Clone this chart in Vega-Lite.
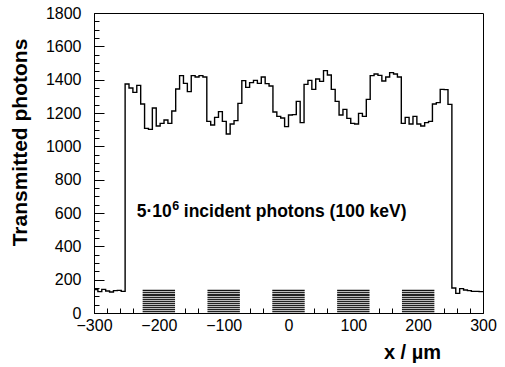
{
  "$schema": "https://vega.github.io/schema/vega-lite/v6.json",
  "width": 389,
  "height": 300,
  "autosize": "none",
  "padding": {"left": 94, "top": 13, "right": 22, "bottom": 54},
  "background": "white",
  "config": {"view": {"stroke": "#000", "strokeWidth": 1}, "font": "Liberation Sans"},
  "datasets": {
    "hist": [
      {"x": -300, "v": 140}, {"x": -294, "v": 128}, {"x": -288, "v": 142}, {"x": -282, "v": 132},
      {"x": -276, "v": 126}, {"x": -270, "v": 134}, {"x": -264, "v": 136}, {"x": -258, "v": 130},
      {"x": -252, "v": 1374}, {"x": -246, "v": 1350}, {"x": -240, "v": 1324}, {"x": -234, "v": 1366},
      {"x": -228, "v": 1254}, {"x": -222, "v": 1108}, {"x": -216, "v": 1102}, {"x": -210, "v": 1230},
      {"x": -204, "v": 1122}, {"x": -198, "v": 1138}, {"x": -192, "v": 1158}, {"x": -186, "v": 1138},
      {"x": -180, "v": 1212}, {"x": -174, "v": 1344}, {"x": -168, "v": 1424}, {"x": -162, "v": 1378},
      {"x": -156, "v": 1328}, {"x": -150, "v": 1424}, {"x": -144, "v": 1416}, {"x": -138, "v": 1424},
      {"x": -132, "v": 1416}, {"x": -126, "v": 1150}, {"x": -120, "v": 1128}, {"x": -114, "v": 1174},
      {"x": -108, "v": 1208}, {"x": -102, "v": 1150}, {"x": -96, "v": 1074}, {"x": -90, "v": 1134},
      {"x": -84, "v": 1154}, {"x": -78, "v": 1258}, {"x": -72, "v": 1394}, {"x": -66, "v": 1354},
      {"x": -60, "v": 1382}, {"x": -54, "v": 1396}, {"x": -48, "v": 1378}, {"x": -42, "v": 1416},
      {"x": -36, "v": 1376}, {"x": -30, "v": 1362}, {"x": -24, "v": 1206}, {"x": -18, "v": 1180},
      {"x": -12, "v": 1170}, {"x": -6, "v": 1118}, {"x": 0, "v": 1188}, {"x": 6, "v": 1190},
      {"x": 12, "v": 1270}, {"x": 18, "v": 1142}, {"x": 24, "v": 1372}, {"x": 30, "v": 1396},
      {"x": 36, "v": 1342}, {"x": 42, "v": 1404}, {"x": 48, "v": 1390}, {"x": 54, "v": 1454},
      {"x": 60, "v": 1428}, {"x": 66, "v": 1342}, {"x": 72, "v": 1270}, {"x": 78, "v": 1188},
      {"x": 84, "v": 1222}, {"x": 90, "v": 1168}, {"x": 96, "v": 1138}, {"x": 102, "v": 1134},
      {"x": 108, "v": 1198}, {"x": 114, "v": 1180}, {"x": 120, "v": 1282}, {"x": 126, "v": 1424},
      {"x": 132, "v": 1434}, {"x": 138, "v": 1426}, {"x": 144, "v": 1392}, {"x": 150, "v": 1416},
      {"x": 156, "v": 1442}, {"x": 162, "v": 1434}, {"x": 168, "v": 1416}, {"x": 174, "v": 1138},
      {"x": 180, "v": 1174}, {"x": 186, "v": 1134}, {"x": 192, "v": 1180}, {"x": 198, "v": 1134},
      {"x": 204, "v": 1122}, {"x": 210, "v": 1142}, {"x": 216, "v": 1150}, {"x": 222, "v": 1254},
      {"x": 228, "v": 1262}, {"x": 234, "v": 1342}, {"x": 240, "v": 1340}, {"x": 246, "v": 1252},
      {"x": 252, "v": 150}, {"x": 258, "v": 118}, {"x": 264, "v": 146}, {"x": 270, "v": 138},
      {"x": 276, "v": 134}, {"x": 282, "v": 130}, {"x": 288, "v": 130}, {"x": 294, "v": 128},
      {"x": 300, "v": 128}
    ],
    "strips": [
      {"x0": -225, "x1": -175, "top": 140},
      {"x0": -125, "x1": -75, "top": 140},
      {"x0": -25, "x1": 25, "top": 140},
      {"x0": 75, "x1": 125, "top": 140},
      {"x0": 175, "x1": 225, "top": 140}
    ],
    "note": [{"x": -180, "y": 575, "a": "5·10", "b": "6", "c": "incident photons (100 keV)"}]
  },
  "resolve": {"scale": {"x": "shared", "y": "shared"}, "axis": {"x": "independent", "y": "independent"}},
  "layer": [
    {
      "data": {"name": "strips"},
      "mark": {
        "type": "rect",
        "color": {
          "gradient": "linear", "x1": 0, "y1": 0, "x2": 0, "y2": 1,
          "stops": [
            {"offset": 0.0, "color": "#111"}, {"offset": 0.0417, "color": "#111"}, {"offset": 0.0417, "color": "#bbb"}, {"offset": 0.0833, "color": "#bbb"},
            {"offset": 0.0833, "color": "#222"}, {"offset": 0.125, "color": "#222"}, {"offset": 0.125, "color": "#bbb"}, {"offset": 0.1667, "color": "#bbb"},
            {"offset": 0.1667, "color": "#222"}, {"offset": 0.2083, "color": "#222"}, {"offset": 0.2083, "color": "#bbb"}, {"offset": 0.25, "color": "#bbb"},
            {"offset": 0.25, "color": "#222"}, {"offset": 0.2917, "color": "#222"}, {"offset": 0.2917, "color": "#bbb"}, {"offset": 0.3333, "color": "#bbb"},
            {"offset": 0.3333, "color": "#222"}, {"offset": 0.375, "color": "#222"}, {"offset": 0.375, "color": "#bbb"}, {"offset": 0.4167, "color": "#bbb"},
            {"offset": 0.4167, "color": "#222"}, {"offset": 0.4583, "color": "#222"}, {"offset": 0.4583, "color": "#bbb"}, {"offset": 0.5, "color": "#bbb"},
            {"offset": 0.5, "color": "#222"}, {"offset": 0.5417, "color": "#222"}, {"offset": 0.5417, "color": "#bbb"}, {"offset": 0.5833, "color": "#bbb"},
            {"offset": 0.5833, "color": "#222"}, {"offset": 0.625, "color": "#222"}, {"offset": 0.625, "color": "#bbb"}, {"offset": 0.6667, "color": "#bbb"},
            {"offset": 0.6667, "color": "#222"}, {"offset": 0.7083, "color": "#222"}, {"offset": 0.7083, "color": "#bbb"}, {"offset": 0.75, "color": "#bbb"},
            {"offset": 0.75, "color": "#222"}, {"offset": 0.7917, "color": "#222"}, {"offset": 0.7917, "color": "#bbb"}, {"offset": 0.8333, "color": "#bbb"},
            {"offset": 0.8333, "color": "#222"}, {"offset": 0.875, "color": "#222"}, {"offset": 0.875, "color": "#bbb"}, {"offset": 0.9167, "color": "#bbb"},
            {"offset": 0.9167, "color": "#222"}, {"offset": 0.9583, "color": "#222"}, {"offset": 0.9583, "color": "#bbb"}, {"offset": 1.0, "color": "#bbb"}
          ]
        }
      },
      "encoding": {
        "x": {
          "field": "x0", "type": "quantitative",
          "scale": {"domain": [-300, 300], "nice": false, "zero": false},
          "axis": {
            "orient": "bottom", "values": [-300, -200, -100, 0, 100, 200, 300], "format": "d",
            "tickSize": -10, "tickColor": "#000", "labelPadding": 14, "labelFontSize": 16,
            "labelFont": "Liberation Sans", "labelColor": "#000", "labelFlush": false, "labelOverlap": false,
            "domain": false, "grid": false,
            "title": "x / µm", "titleFont": "Liberation Sans", "titleFontSize": 20, "titleFontWeight": "bold",
            "titleColor": "#000", "titleX": 346.5, "titleY": 45, "titleAlign": "right", "titleBaseline": "alphabetic"
          }
        },
        "x2": {"field": "x1"},
        "y": {
          "field": "top", "type": "quantitative",
          "scale": {"domain": [0, 1800], "nice": false, "zero": true},
          "axis": {
            "orient": "left", "values": [0, 200, 400, 600, 800, 1000, 1200, 1400, 1600, 1800], "format": "d",
            "tickSize": -10, "tickColor": "#000", "labelPadding": 23, "labelFontSize": 16,
            "labelFont": "Liberation Sans", "labelColor": "#000", "labelFlush": false, "labelOverlap": false,
            "domain": false, "grid": false,
            "title": "Transmitted photons", "titleFont": "Liberation Sans", "titleFontSize": 21, "titleFontWeight": "bold",
            "titleColor": "#000", "titleX": -74, "titleY": 129, "titleAngle": -90, "titleAlign": "center", "titleBaseline": "middle"
          }
        },
        "y2": {"datum": 0}
      }
    },
    {
      "data": {"name": "hist"},
      "mark": {"type": "line", "interpolate": "step-after", "color": "#000", "strokeWidth": 1.4},
      "encoding": {
        "x": {
          "field": "x", "type": "quantitative",
          "axis": {
            "orient": "bottom",
            "values": [-300, -280, -260, -240, -220, -200, -180, -160, -140, -120, -100, -80, -60, -40, -20, 0, 20, 40, 60, 80, 100, 120, 140, 160, 180, 200, 220, 240, 260, 280, 300],
            "tickSize": -5, "tickColor": "#000", "labels": false, "domain": false, "grid": false, "title": null
          }
        },
        "y": {
          "field": "v", "type": "quantitative",
          "axis": {
            "orient": "left",
            "values": [0, 50, 100, 150, 200, 250, 300, 350, 400, 450, 500, 550, 600, 650, 700, 750, 800, 850, 900, 950, 1000, 1050, 1100, 1150, 1200, 1250, 1300, 1350, 1400, 1450, 1500, 1550, 1600, 1650, 1700, 1750, 1800],
            "tickSize": -5, "tickColor": "#000", "labels": false, "domain": false, "grid": false, "title": null
          }
        }
      }
    },
    {
      "data": {"name": "note"},
      "mark": {"type": "text", "font": "Liberation Sans", "fontSize": 17.5, "fontWeight": "bold", "color": "#000", "align": "right", "baseline": "alphabetic"},
      "encoding": {
        "x": {"field": "x", "type": "quantitative", "axis": null},
        "y": {"field": "y", "type": "quantitative", "axis": null},
        "text": {"field": "a"}
      }
    },
    {
      "data": {"name": "note"},
      "mark": {"type": "text", "font": "Liberation Sans", "fontSize": 12.5, "fontWeight": "bold", "color": "#000", "align": "left", "baseline": "alphabetic", "dx": 0.5, "dy": -7},
      "encoding": {
        "x": {"field": "x", "type": "quantitative", "axis": null},
        "y": {"field": "y", "type": "quantitative", "axis": null},
        "text": {"field": "b"}
      }
    },
    {
      "data": {"name": "note"},
      "mark": {"type": "text", "font": "Liberation Sans", "fontSize": 17.5, "fontWeight": "bold", "color": "#000", "align": "left", "baseline": "alphabetic", "dx": 12},
      "encoding": {
        "x": {"field": "x", "type": "quantitative", "axis": null},
        "y": {"field": "y", "type": "quantitative", "axis": null},
        "text": {"field": "c"}
      }
    }
  ]
}
